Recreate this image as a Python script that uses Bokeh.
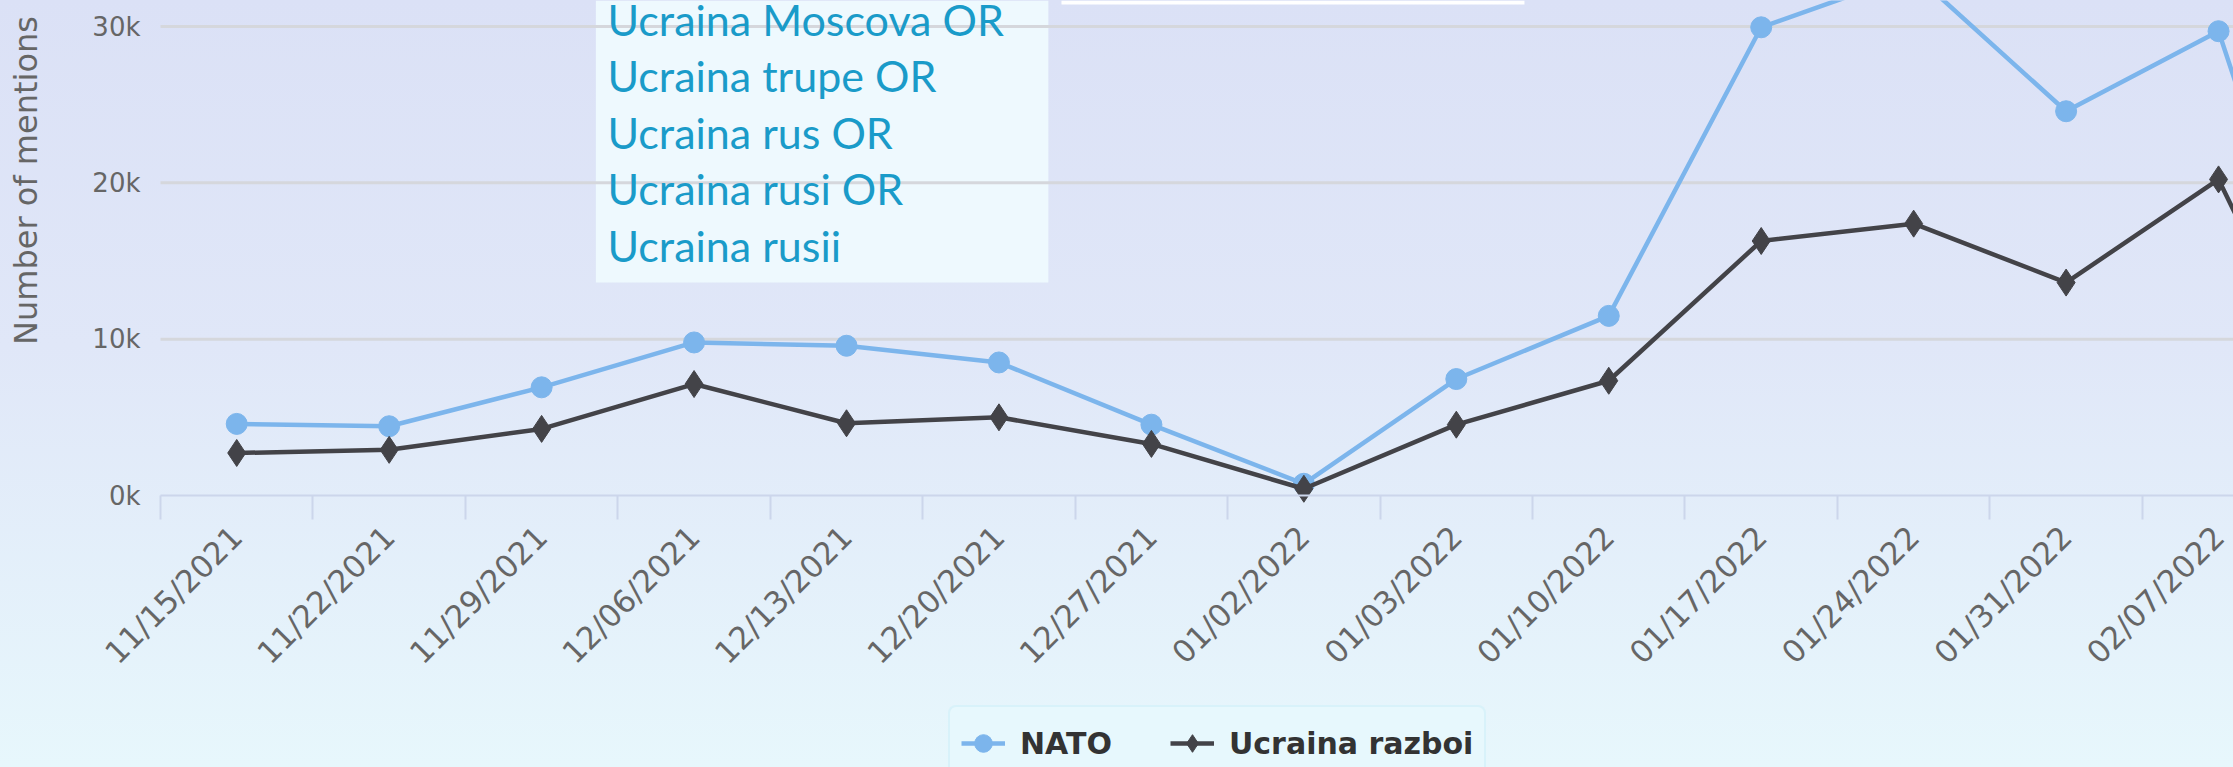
from math import pi
from bokeh.plotting import figure
from bokeh.models import (ColumnDataSource, Range1d, FixedTicker, BoxAnnotation,
                          Label, Legend, LegendItem, InlineStyleSheet)
from bokeh.embed import file_html
from bokeh.resources import INLINE

# ---- data ----
weeks = ["11/15/2021", "11/22/2021", "11/29/2021", "12/06/2021", "12/13/2021",
         "12/20/2021", "12/27/2021", "01/02/2022", "01/03/2022", "01/10/2022",
         "01/17/2022", "01/24/2022", "01/31/2022", "02/07/2022", "02/14/2022"]
nato = [4580, 4430, 6920, 9790, 9580, 8510, 4530, 750, 7450, 11490,
        29950, 33400, 24580, 29700, 200]
razboi = [2720, 2920, 4260, 7130, 4620, 5000, 3300, 430, 4530, 7340,
          16280, 17390, 13620, 20220, 100]
y_ticks = [0, 10000, 20000, 30000]
y_tick_labels = ["0k", "10k", "20k", "30k"]
series_names = ["NATO", "Ucraina razboi"]
box_terms = ["Ucraina Moscova OR", "Ucraina trupe OR", "Ucraina rus OR",
             "Ucraina rusi OR", "Ucraina rusii"]
y_title = "Number of mentions"

X0, X1 = -1.5495, 13.098
idx = list(range(len(weeks)))
src = ColumnDataSource(dict(x=idx, nato=nato, razboi=razboi, week=weeks))
grid_vals = y_ticks[1:]
grid_src = ColumnDataSource(dict(y=grid_vals, x0=[-0.5] * len(grid_vals),
                                 x1=[X1] * len(grid_vals)))

p = figure(width=2233, height=767, output_backend="svg", toolbar_location=None,
           x_range=Range1d(X0, X1), y_range=Range1d(-17399, 31664),
           min_border=0, min_border_left=0, min_border_right=0,
           min_border_top=0, min_border_bottom=0)
p.outline_line_color = None
p.background_fill_alpha = 0
p.border_fill_alpha = 0
p.stylesheets = [InlineStyleSheet(css=":host { background: linear-gradient(180deg, #dbe1f6 0%, #e0e7f8 45%, #e7f7fc 100%); }")]
p.xgrid.visible = False
p.ygrid.visible = False

# keyword box (under grid lines)
box = BoxAnnotation(left=2.356, right=5.324, bottom=13620, fill_color="#eef9fe",
                    fill_alpha=1, line_color=None, level="underlay")
p.add_layout(box)
strip = BoxAnnotation(left=5.41, right=8.447, bottom=31410, fill_color="#ffffff",
                      fill_alpha=1, line_color=None)
p.add_layout(strip)

# horizontal grid lines at the y ticks (from the plot-area left edge)
p.segment(x0="x0", x1="x1", y0="y", y1="y", source=grid_src,
          line_color="#d5d7dc", line_width=3)

# y axis, drawn at the left edge of the plot area
ya = p.yaxis[0]
ya.fixed_location = -0.5
ya.ticker = FixedTicker(ticks=y_ticks)
ya.major_label_overrides = {t: l for t, l in zip(y_ticks, y_tick_labels)}
ya.axis_line_color = None
ya.major_tick_line_color = None
ya.major_tick_out = 0
ya.minor_tick_line_color = None
ya.major_label_standoff = 20
ya.major_label_text_font = "DejaVu Sans"
ya.major_label_text_font_size = "26px"
ya.major_label_text_color = "#666666"

# x axis at y = 0
xa = p.xaxis[0]
xa.fixed_location = 0
xa.bounds = (-0.5, X1 + 1)
xa.ticker = FixedTicker(ticks=idx, minor_ticks=[i - 0.5 for i in range(len(weeks) + 1)])
xa.major_label_overrides = {i: w for i, w in zip(idx, weeks)}
xa.major_tick_line_color = None
xa.major_tick_out = 0
xa.major_tick_in = 0
xa.minor_tick_line_color = "#ccd6eb"
xa.minor_tick_line_width = 2
xa.minor_tick_out = 24
xa.minor_tick_in = 0
xa.axis_line_color = "#ccd6eb"
xa.axis_line_width = 2
xa.major_label_orientation = pi / 4
xa.major_label_standoff = 12
xa.major_label_text_font = "DejaVu Sans"
xa.major_label_text_font_size = "31px"
xa.major_label_text_color = "#666666"

for i, t in enumerate(box_terms):
    p.add_layout(Label(x=2.432, y=30450 - i * 3614, text=t, text_font="Lato",
                       text_font_size="43px", text_color="#1a9bc9",
                       text_baseline="alphabetic", text_align="left"))

# series
l1 = p.line("x", "nato", source=src, line_color="#7cb5ec", line_width=4.5)
s1 = p.scatter("x", "nato", source=src, marker="circle", size=21,
               fill_color="#7cb5ec", line_color="#7cb5ec")
l2 = p.line("x", "razboi", source=src, line_color="#434348", line_width=4.5)
s2 = p.scatter("x", "razboi", source=src, marker="diamond", size=27,
               fill_color="#434348", line_color="#434348")

# y title
p.add_layout(Label(x=-1.379, y=20150, text=y_title, angle=pi / 2,
                   text_align="center", text_baseline="middle",
                   text_font="DejaVu Sans", text_font_size="32px",
                   text_color="#666666"))

legend = Legend(items=[LegendItem(label=series_names[0], renderers=[l1, s1]),
                       LegendItem(label=series_names[1], renderers=[l2, s2])],
                location=(948, -14), orientation="horizontal",
                label_text_font="DejaVu Sans", label_text_font_style="bold",
                label_text_font_size="30px", label_text_color="#333333",
                glyph_width=44, glyph_height=50, label_height=34,
                label_standoff=15, spacing=58,
                padding=11, background_fill_color="#e7f8fd", background_fill_alpha=1,
                border_line_color="#c9ecf7", border_line_width=2, border_radius=8,
                margin=0)
p.add_layout(legend)

open("out.html", "w").write(file_html(p, INLINE))
